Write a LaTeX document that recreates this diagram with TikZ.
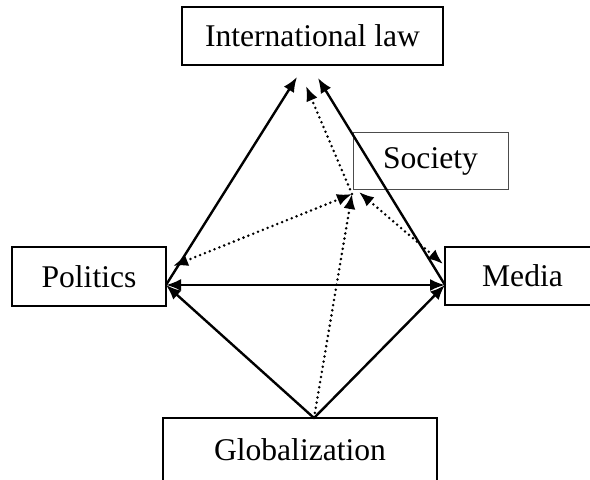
\documentclass[tikz,border=0pt]{standalone}
\usepackage{fontspec}
\setmainfont{Liberation Serif}
\usetikzlibrary{arrows.meta}

\begin{document}
\begin{tikzpicture}[x=0.5pt, y=-0.5pt,
		every node/.style={font=\fontsize{15.8}{18}\selectfont},
		box/.style={draw, line width=0.9pt, inner sep=0pt},
		link/.style={line width=1.2pt, >={Latex[length=7.5pt,width=6pt]}},
		weak link/.style={link, line cap=round, dash pattern=on 0pt off 2.6pt, line width=1.4pt}]
		\useasboundingbox (0, 0) rectangle (590, 480);

		\node[box, minimum width=130.5pt, minimum height=29pt] at (312.5, 36) (law) {International law};
		\node[box, draw=black!70, line width=0.5pt, minimum width=77.5pt, minimum height=28.5pt] at (430.5, 161.5) (soc) {Society};

		\node[box, minimum width=77pt, minimum height=29.5pt] at (89, 276.5) (pol) {Politics};
		\node[box, minimum width=77.5pt, minimum height=29pt] at (522.5, 276) (med) {Media};

		\node[box, minimum width=137pt, minimum height=32pt] at (300, 450) (glob) {Globalization};

		% end points of the arrows
		\coordinate (law l) at (297, 77);
		\coordinate (law m) at (306, 86);
		\coordinate (law r) at (318, 78);
		\coordinate (pol e) at (166, 285);
		\coordinate (med w) at (445, 285);
		\coordinate (pol d) at (173, 266);
		\coordinate (med d) at (443, 264);
		\coordinate (soc a) at (352, 194);
		\coordinate (soc b) at (359, 192);
		\coordinate (glob n) at (314, 418);

		% solid edges
		\draw[link, ->] (pol e) -- (law l);
		\draw[link, ->] (med w) -- (law r);
		\draw[link, <->] (pol e) -- (med w);
		\draw[link, ->] (glob n) -- (pol e);
		\draw[link, ->] (glob n) -- (med w);

		% dotted edges
		\draw[weak link, ->] (soc a) -- (law m);
		\draw[weak link, <->] (pol d) -- (soc a);
		\draw[weak link, <->] (med d) -- (soc b);
		\draw[weak link, ->] (glob n) -- (soc a);
\end{tikzpicture}
\end{document}
